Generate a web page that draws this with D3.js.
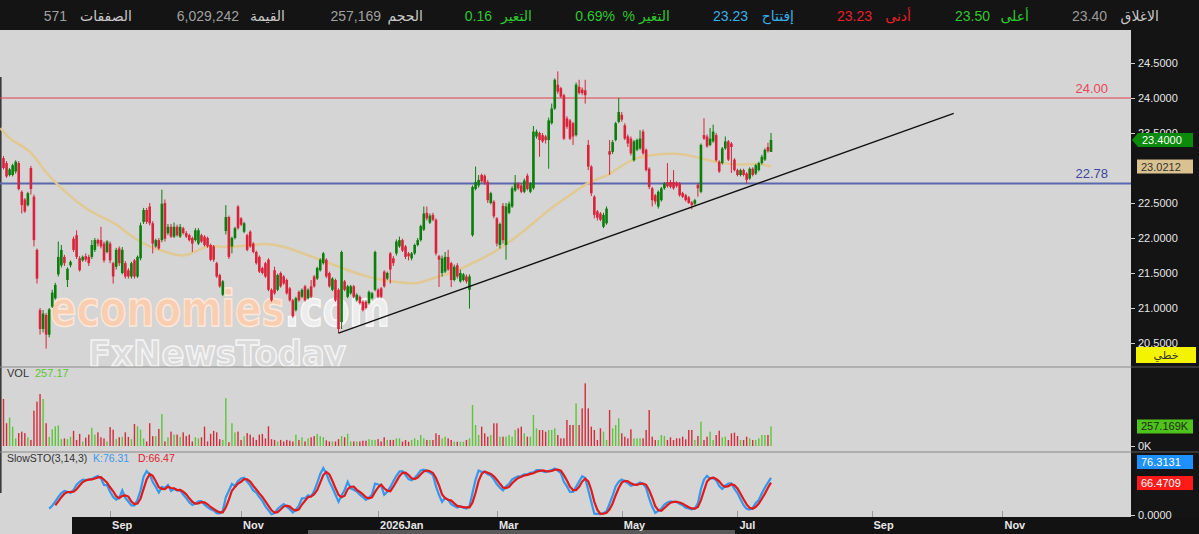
<!DOCTYPE html>
<html>
<head>
<meta charset="utf-8">
<script src="https://cdnjs.cloudflare.com/ajax/libs/d3/7.8.5/d3.min.js"></script>
<style>
html, body { margin: 0; padding: 0; background: #141414; overflow: hidden; }
svg { display: block; font-family: "Liberation Sans", Arial, "DejaVu Sans", sans-serif; }
</style>
</head>
<body>
<svg id="chart" width="1199" height="534"></svg>
<script>
// daily candles (oldest first)
var opens = [
  23.14,23.07,22.90,22.90,22.95,23.07,22.66,22.55,22.47,23.00,
  22.59,21.83,20.97,20.70,20.90,20.62,21.02,21.14,21.48,21.61,
  21.73,21.40,21.61,21.99,22.04,21.71,21.68,21.74,21.73,21.73,
  21.83,21.97,21.97,21.92,21.80,21.92,21.64,21.59,21.85,21.50,
  21.64,21.54,21.45,21.68,21.45,21.71,22.23,22.40,22.45,22.21,
  21.88,21.97,21.97,22.50,22.07,22.16,22.02,22.16,22.02,22.14,
  22.07,22.04,22.00,21.97,
  21.92,22.04,22.02,22.00,21.90,21.88,21.64,21.47,21.19,22.10,
  22.30,21.88,22.00,22.45,22.28,22.09,22.04,22.09,21.92,21.80,
  21.73,21.57,21.64,21.69,21.26,21.54,21.26,21.50,21.45,21.40,
  21.28,21.11,20.97,21.23,21.16,21.31,21.14,21.31,21.45,21.42,
  21.54,21.64,21.69,21.50,21.26,21.40,21.26,20.80,21.38,21.16,
  21.21,21.31,21.11,21.16,21.09,21.09,21.07,21.14,21.26,21.26,
  21.28,21.52,21.42,
  21.78,21.71,21.78,21.88,21.97,21.88,21.78,21.71,21.78,21.90,
  21.97,22.12,22.36,22.22,22.33,22.26,21.74,21.50,21.52,21.73,
  21.64,21.40,21.61,21.38,21.40,21.45,21.26,22.04,22.70,22.75,
  22.90,22.89,22.80,22.50,22.52,22.28,21.90,22.46,21.90,22.36,
  22.45,22.68,22.78,22.75,22.66,22.89,22.66,22.71,23.45,23.50,
  23.47,23.45,23.40,23.64,23.85,24.19,24.14,24.04,23.71,23.68,
  23.64,23.47,24.16,24.12,24.11,23.33,
  23.02,22.59,22.38,22.35,22.16,22.21,23.24,23.23,23.40,23.66,
  23.76,23.61,23.45,23.42,23.11,23.26,23.28,23.52,23.26,22.99,
  22.71,22.61,22.45,22.54,22.71,22.80,22.80,22.80,22.79,22.78,
  22.64,22.61,22.58,22.51,22.49,22.76,22.66,23.47,23.45,23.33,
  23.38,23.47,23.09,23.07,23.28,23.38,23.35,23.12,22.97,22.90,
  22.97,22.92,22.85,22.99,22.92,22.97,23.07,23.12,23.30,23.23
];
var highs = [
  23.17,23.10,23.00,23.06,23.11,23.10,22.68,22.57,22.66,23.03,
  22.62,21.85,21.00,20.97,20.93,21.00,21.26,21.36,21.95,21.90,
  21.76,21.58,21.68,22.02,22.11,21.74,21.75,21.78,21.76,21.97,
  22.00,21.99,22.16,21.95,21.97,21.95,21.66,21.86,21.88,21.87,
  21.67,21.57,21.66,21.70,21.75,22.22,22.43,22.43,22.50,22.24,
  21.99,22.00,22.69,22.55,22.20,22.20,22.22,22.19,22.20,22.16,
  22.10,22.06,22.02,22.14,
  22.14,22.06,22.04,22.02,21.92,21.90,21.66,21.49,21.40,22.47,
  22.32,22.02,22.16,22.47,22.30,22.23,22.06,22.11,21.94,21.82,
  21.75,21.59,21.66,21.71,21.28,21.59,21.49,21.52,21.47,21.42,
  21.30,21.13,21.16,21.25,21.28,21.33,21.28,21.40,21.47,21.59,
  21.71,21.80,21.71,21.52,21.44,21.42,21.28,21.82,21.40,21.33,
  21.33,21.33,21.21,21.18,21.11,21.11,21.25,21.23,21.82,21.28,
  21.30,21.54,21.52,
  21.80,21.74,21.98,22.02,21.99,21.90,21.80,21.80,21.92,22.00,
  22.19,22.45,22.45,22.35,22.36,22.28,21.76,21.75,21.80,21.83,
  21.66,21.62,21.64,21.55,21.50,21.48,21.48,22.75,23.02,22.90,
  22.92,22.91,22.83,22.66,22.54,22.30,22.22,22.50,22.50,22.52,
  22.74,22.90,22.80,22.78,22.85,22.92,22.80,23.60,23.55,23.52,
  23.50,23.47,23.72,23.92,24.28,24.38,24.16,24.06,23.74,23.70,
  23.66,24.22,24.26,24.15,24.26,23.40,
  23.04,22.61,22.40,22.37,22.36,22.45,23.40,23.40,23.66,24.00,
  23.80,23.64,23.48,23.45,23.40,23.42,23.54,23.55,23.28,23.01,
  22.73,22.63,22.68,22.73,22.80,23.07,22.83,22.97,22.81,22.80,
  22.66,22.63,22.60,22.53,22.56,22.78,23.35,23.71,23.48,23.57,
  23.62,23.50,23.11,23.30,23.45,23.40,23.37,23.14,22.99,22.99,
  22.99,22.94,23.01,23.01,23.06,23.09,23.19,23.28,23.36,23.50
];
var lows = [
  22.98,22.86,22.88,22.88,22.92,22.68,22.35,22.36,22.45,22.62,
  21.88,21.35,20.62,20.65,20.42,20.58,21.00,21.12,21.45,21.58,
  21.60,21.30,21.58,21.80,21.70,21.52,21.66,21.66,21.60,21.70,
  21.80,21.88,21.85,21.65,21.78,21.64,21.35,21.55,21.60,21.48,
  21.42,21.42,21.42,21.42,21.43,21.68,22.20,22.20,22.18,21.78,
  21.86,21.83,21.94,21.95,22.04,22.00,22.00,22.02,22.00,22.05,
  22.00,21.95,21.80,21.95,
  21.90,21.93,21.88,21.86,21.67,21.66,21.43,21.29,21.17,22.05,
  21.70,21.78,21.98,22.12,22.17,22.07,21.81,21.86,21.78,21.62,
  21.50,21.48,21.43,21.24,21.09,21.19,21.24,21.29,21.33,21.19,
  21.09,20.86,20.95,21.09,21.14,21.09,21.12,21.14,21.29,21.40,
  21.52,21.62,21.43,21.29,21.24,21.09,20.64,20.70,21.24,21.14,
  21.19,21.14,21.09,21.05,20.95,20.98,21.05,21.12,21.24,21.14,
  21.14,21.29,21.40,
  21.35,21.60,21.75,21.86,21.80,21.70,21.68,21.68,21.76,21.88,
  21.95,22.10,22.25,22.20,22.24,21.75,21.30,21.45,21.50,21.53,
  21.30,21.38,21.42,21.36,21.38,21.35,20.99,22.02,22.68,22.72,
  22.79,22.76,22.50,22.48,22.28,21.88,21.85,21.92,21.69,22.34,
  22.43,22.66,22.69,22.64,22.64,22.68,22.64,22.69,23.42,23.16,
  23.36,23.35,22.99,23.62,23.83,24.06,24.00,23.40,23.56,23.40,
  23.33,23.45,24.05,24.04,23.92,22.97,
  22.60,22.28,22.25,22.24,22.14,22.19,22.90,23.20,23.38,23.64,
  23.66,23.40,23.30,23.18,23.09,23.24,23.26,23.19,22.95,22.70,
  22.45,22.48,22.42,22.52,22.69,22.72,22.71,22.69,22.72,22.59,
  22.57,22.52,22.49,22.41,22.47,22.59,22.64,23.40,23.29,23.31,
  23.36,23.09,22.93,23.05,23.26,23.10,22.93,22.95,22.88,22.88,
  22.88,22.78,22.83,22.88,22.90,22.95,23.05,23.10,23.22,23.23
];
var closes = [
  23.00,22.88,22.98,23.04,23.09,22.70,22.47,22.38,22.64,22.70,
  21.97,21.42,20.70,20.92,20.62,20.98,21.22,21.33,21.73,21.83,
  21.64,21.56,21.66,21.83,21.73,21.54,21.73,21.69,21.64,21.90,
  21.97,21.92,21.88,21.68,21.95,21.68,21.45,21.83,21.64,21.83,
  21.45,21.45,21.64,21.45,21.73,22.18,22.40,22.23,22.21,21.92,
  21.97,21.85,22.49,21.99,22.16,22.02,22.16,22.04,22.16,22.07,
  22.02,21.97,21.92,22.11,
  22.11,21.95,21.90,21.88,21.69,21.69,21.45,21.31,21.38,22.30,
  21.73,22.00,22.14,22.14,22.19,22.21,21.83,21.88,21.80,21.64,
  21.52,21.50,21.45,21.26,21.11,21.21,21.47,21.31,21.35,21.21,
  21.11,20.88,21.14,21.11,21.26,21.11,21.26,21.16,21.31,21.57,
  21.69,21.78,21.45,21.31,21.42,21.11,20.70,21.80,21.26,21.31,
  21.31,21.16,21.19,21.07,20.97,21.00,21.23,21.21,21.80,21.16,
  21.16,21.31,21.50,
  21.55,21.64,21.95,21.97,21.82,21.73,21.74,21.78,21.90,21.97,
  22.17,22.35,22.28,22.32,22.26,21.78,21.69,21.71,21.73,21.55,
  21.40,21.59,21.45,21.50,21.48,21.38,21.45,22.73,22.80,22.83,
  22.81,22.79,22.54,22.64,22.31,21.92,22.20,21.97,22.45,22.49,
  22.71,22.78,22.71,22.66,22.82,22.70,22.78,23.52,23.52,23.40,
  23.38,23.40,23.68,23.85,24.26,24.09,24.02,23.42,23.59,23.42,
  23.45,24.19,24.07,24.07,24.04,23.02,
  22.64,22.33,22.29,22.26,22.33,22.42,23.19,23.37,23.64,23.80,
  23.69,23.42,23.35,23.21,23.38,23.40,23.42,23.21,22.97,22.73,
  22.54,22.52,22.66,22.71,22.78,22.74,22.73,22.71,22.74,22.61,
  22.59,22.54,22.50,22.47,22.54,22.71,23.33,23.42,23.31,23.42,
  23.52,23.11,22.95,23.28,23.38,23.12,23.30,22.97,22.90,22.97,
  22.90,22.83,22.99,22.90,23.04,23.07,23.16,23.26,23.24,23.40
];
// volume in thousands of shares
var volumes = [
  620,300,375,255,100,170,190,170,115,80,
  465,585,685,620,300,120,220,260,270,90,
  100,90,120,200,80,160,60,110,150,240,
  150,180,115,100,60,250,215,90,115,120,
  180,120,90,290,260,215,100,60,300,130,
  130,225,420,60,115,190,150,150,120,180,
  130,150,60,115,100,115,255,60,160,200,
  180,90,80,630,50,300,180,190,80,130,
  170,150,115,80,150,160,100,260,90,80,
  60,80,60,80,70,60,150,80,115,60,
  100,115,130,160,130,115,75,60,60,60,
  90,130,115,160,60,60,60,60,70,70,
  90,80,80,90,60,115,80,80,80,100,
  101,57,79,57,79,101,79,145,101,79,
  79,79,167,145,101,123,101,79,57,57,
  57,57,79,101,540,277,145,255,167,123,
  145,299,299,123,123,123,145,123,211,233,
  255,167,123,123,409,233,211,211,189,211,
  211,233,145,101,101,343,277,277,562,277,
  496,826,496,255,211,79,233,189,79,474,
  233,277,365,167,123,101,220,101,101,101,
  101,211,474,123,79,79,145,132,79,114,
  79,101,101,123,88,211,211,79,132,321,
  79,123,189,79,145,202,114,123,79,167,
  176,132,79,79,123,101,79,79,101,145,
  145,145,257.169
];
// moving average (beige line), sampled at candle indices
var maIdx = [-1,2,9,13,18,26,32,37,42,48,54,59,63,67,71,75,82,86,93,97,104,110,119,130,136,141,148,154,161,167,174,180,187,193,198,202,207,213,220,224,229,235,242,248,252];
var maVal = [23.57,23.40,23.26,22.97,22.75,22.44,22.30,22.21,22.01,21.87,21.79,21.73,21.80,21.90,21.87,21.87,21.90,21.93,21.87,21.80,21.69,21.59,21.44,21.36,21.34,21.43,21.51,21.64,21.79,21.97,22.21,22.44,22.64,22.83,22.87,23.01,23.14,23.19,23.21,23.19,23.14,23.07,23.04,23.07,23.02];

var trendIdx = [110, 312], trendVal = [20.64, 23.78];
var levelVals = [24.00, 22.78];
var priceTicks = [24.5, 24, 23.5, 22.5, 22, 21.5, 21, 20.5];
var dateIdx = [35, 78, 123, 162, 203, 241, 285, 328];
var dateLabels = ["Sep", "Nov", "2026Jan", "Mar", "May", "Jul", "Sep", "Nov"];
var headLabels = ["الاغلاق", "أعلى", "أدنى", "إفتتاح", "% التغير", "التغير", "الحجم", "القيمة", "الصفقات"];
var headValues = ["23.40", "23.50", "23.23", "23.23", "0.69%", "0.16", "257,169", "6,029,242", "571"];
var maLast = 23.0212, volLast = 257.169, kLast = 76.3131, dLast = 66.4709;

var UP = "#0b7d0b", DN = "#d9233a", VUP = "#5ec43a", VDN = "#d42a3a";

var svg = d3.select("#chart");
var N = closes.length;

var x = d3.scaleLinear().domain([0, N - 1]).range([3.5, 771]);
var y = d3.scaleLinear().domain([20.5, 24.5]).range([343, 63]);
var yVol = d3.scaleLinear().domain([0, 800]).range([446, 385.3]);
var ySto = d3.scaleLinear().domain([0, 100]).range([515, 467]);

// backgrounds
svg.append("rect").attr("width", 1199).attr("height", 534).attr("fill", "#141414");
svg.append("rect").attr("x", 0).attr("y", 30).attr("width", 1131).attr("height", 504).attr("fill", "#d5d5d5");
svg.append("rect").attr("x", 72).attr("y", 517).attr("width", 1127).attr("height", 17).attr("fill", "#121212");
svg.append("rect").attr("x", 308).attr("y", 530).attr("width", 427).attr("height", 4).attr("fill", "#5a5a5a");
svg.append("line").attr("x1", 0.8).attr("x2", 0.8).attr("y1", 77).attr("y2", 493)
  .attr("stroke", "#3a3a3a").attr("stroke-width", 1.6);

// header
var headLabelX = [1159, 1029, 911, 794, 670, 532, 423, 285, 132];
var headValueX = [1107, 990, 872, 748, 615, 492, 381, 239, 67];
var headLabelCol = ["#c8c8c8", "#2ec82e", "#e8202a", "#38b0e8", "#2ec82e", "#2ec82e", "#c8c8c8", "#c8c8c8", "#c8c8c8"];
var headValueCol = ["#9a9a9a", "#2ec82e", "#e8202a", "#38b0e8", "#2ec82e", "#2ec82e", "#a0a0a0", "#a0a0a0", "#a0a0a0"];
var hg = svg.append("g").attr("font-size", "14px");
headLabels.forEach(function(t, k) {
  hg.append("text").attr("x", headLabelX[k]).attr("y", 21).attr("text-anchor", "end")
    .attr("fill", headLabelCol[k]).text(t);
  hg.append("text").attr("x", headValueX[k]).attr("y", 21).attr("text-anchor", "end")
    .attr("fill", headValueCol[k]).text(headValues[k]);
});

// clip for the price panel
svg.append("clipPath").attr("id", "cm").append("rect")
  .attr("x", 0).attr("y", 30).attr("width", 1131).attr("height", 337);
var gMain = svg.append("g").attr("clip-path", "url(#cm)");

// watermark
var wm = gMain.append("g");
var t1 = wm.append("text").attr("x", 50).attr("y", 326).attr("font-size", "50px")
  .attr("font-family", "'DejaVu Sans', sans-serif").attr("font-weight", "bold")
  .attr("textLength", 340).attr("lengthAdjust", "spacingAndGlyphs").attr("stroke-width", 1.5);
t1.append("tspan").attr("fill", "#f9cdb0").attr("stroke", "#fde8da").text("economies");
t1.append("tspan").attr("fill", "#ececec").attr("stroke", "#fafafa").text(".com");
wm.append("text").attr("x", 88).attr("y", 366).attr("font-size", "36px")
  .attr("font-family", "'DejaVu Sans', sans-serif").attr("font-weight", "bold")
  .attr("textLength", 258).attr("lengthAdjust", "spacingAndGlyphs")
  .attr("fill", "rgba(255,255,255,0.18)").attr("stroke", "#f4f4f4").attr("stroke-width", 1.6)
  .text("FxNewsToday");

// horizontal levels
gMain.append("line").attr("x1", 0).attr("x2", 1131).attr("y1", y(levelVals[0])).attr("y2", y(levelVals[0]))
  .attr("stroke", "#e0404e").attr("stroke-width", 1);
gMain.append("line").attr("x1", 0).attr("x2", 1131).attr("y1", y(levelVals[1])).attr("y2", y(levelVals[1]))
  .attr("stroke", "#5a68b0").attr("stroke-width", 2);
gMain.append("text").attr("x", 1108).attr("y", y(levelVals[0]) - 5).attr("text-anchor", "end")
  .attr("font-size", "13px").attr("fill", "#e8485a").text(levelVals[0].toFixed(2));
gMain.append("text").attr("x", 1108).attr("y", y(levelVals[1]) - 5).attr("text-anchor", "end")
  .attr("font-size", "13px").attr("fill", "#3a48a0").text(levelVals[1].toFixed(2));

// moving average
gMain.append("path").datum(d3.range(maIdx.length))
  .attr("d", d3.line().x(function(k) { return x(maIdx[k]); }).y(function(k) { return y(maVal[k]); })
    .curve(d3.curveBasis))
  .attr("fill", "none").attr("stroke", "#e2c88f").attr("stroke-width", 2.5).attr("opacity", 0.95);

// candles
var idx = d3.range(N);
function col(i) { return closes[i] >= opens[i] ? UP : DN; }
gMain.append("g").selectAll("line").data(idx).join("line")
  .attr("x1", function(i) { return x(i); }).attr("x2", function(i) { return x(i); })
  .attr("y1", function(i) { return y(highs[i]); }).attr("y2", function(i) { return y(lows[i]); })
  .attr("stroke", col).attr("stroke-width", 1);
gMain.append("g").selectAll("rect").data(idx).join("rect")
  .attr("x", function(i) { return x(i) - 1.3; }).attr("width", 2.6)
  .attr("y", function(i) { return y(Math.max(opens[i], closes[i])); })
  .attr("height", function(i) { return Math.max(1, Math.abs(y(opens[i]) - y(closes[i]))); })
  .attr("fill", col);

// trend line
gMain.append("line")
  .attr("x1", x(trendIdx[0])).attr("y1", y(trendVal[0]))
  .attr("x2", x(trendIdx[1])).attr("y2", y(trendVal[1]))
  .attr("stroke", "#111").attr("stroke-width", 1.4);

// panel separators
[367, 452].forEach(function(v) {
  svg.append("line").attr("x1", 0).attr("x2", 1199).attr("y1", v).attr("y2", v)
    .attr("stroke", "#8a8a8a").attr("stroke-width", 1.2);
});

// volume
svg.append("g").selectAll("rect").data(idx).join("rect")
  .attr("x", function(i) { return x(i) - 0.7; }).attr("width", 1.4)
  .attr("y", function(i) { return yVol(volumes[i]); })
  .attr("height", function(i) { return yVol(0) - yVol(volumes[i]); })
  .attr("fill", function(i) { return closes[i] >= opens[i] ? VUP : VDN; });
svg.append("text").attr("x", 7).attr("y", 377).attr("font-size", "11px").attr("fill", "#333").text("VOL");
svg.append("text").attr("x", 35).attr("y", 377).attr("font-size", "11px").attr("fill", "#5ec43a")
  .text(d3.format(".2f")(volLast));

// slow stochastic (3,14,3) from the candles
var fastK = closes.map(function(c, i) {
  if (i < 13) return null;
  var hh = d3.max(highs.slice(i - 13, i + 1)), ll = d3.min(lows.slice(i - 13, i + 1));
  return hh === ll ? 50 : 100 * (c - ll) / (hh - ll);
});
var slowK = fastK.map(function(v, i) { return i < 15 ? null : d3.mean(fastK.slice(i - 2, i + 1)); });
var slowD = slowK.map(function(v, i) { return i < 17 ? null : d3.mean(slowK.slice(i - 2, i + 1)); });
var stoLine = function(arr) {
  return d3.line().defined(function(i) { return arr[i] != null; })
    .x(function(i) { return x(i); }).y(function(i) { return ySto(arr[i]); });
};
svg.append("path").datum(idx).attr("d", stoLine(slowK))
  .attr("fill", "none").attr("stroke", "#3398ee").attr("stroke-width", 2.2);
svg.append("path").datum(idx).attr("d", stoLine(slowD))
  .attr("fill", "none").attr("stroke", "#e01a1a").attr("stroke-width", 2.2);
svg.append("text").attr("x", 7).attr("y", 462).attr("font-size", "10.5px").attr("fill", "#333").text("SlowSTO(3,14,3)");
svg.append("text").attr("x", 93).attr("y", 462).attr("font-size", "10.5px").attr("fill", "#3a9ae8")
  .text("K:" + kLast.toFixed(2));
svg.append("text").attr("x", 138).attr("y", 462).attr("font-size", "10.5px").attr("fill", "#e0202a")
  .text("D:" + dLast.toFixed(2));

// date axis
var dg = svg.append("g");
dateIdx.forEach(function(d, k) {
  dg.append("line").attr("x1", Math.round(x(d)) + 0.5).attr("x2", Math.round(x(d)) + 0.5)
    .attr("y1", 511).attr("y2", 517).attr("stroke", "#9a9a9a");
  dg.append("text").attr("x", x(d) + 2).attr("y", 529).attr("font-size", "11px")
    .attr("font-weight", "bold").attr("fill", "#e6e6e6").text(dateLabels[k]);
});

// right axes
svg.append("rect").attr("x", 1131).attr("y", 30).attr("width", 68).attr("height", 487).attr("fill", "#141414");
[367, 452].forEach(function(v) {
  svg.append("line").attr("x1", 1131).attr("x2", 1199).attr("y1", v).attr("y2", v)
    .attr("stroke", "#5a5a5a").attr("stroke-width", 1);
});
function styleAxis(g) {
  g.select(".domain").remove();
  g.selectAll(".tick line").attr("stroke", "#cfcfcf");
  g.selectAll(".tick text").attr("fill", "#e6e6e6").attr("font-size", "11px")
    .attr("font-family", "'Liberation Sans', Arial, sans-serif");
}
svg.append("g").attr("transform", "translate(1131,0)")
  .call(d3.axisRight(y).tickValues(priceTicks).tickSize(4).tickFormat(d3.format(".4f")))
  .call(styleAxis);
svg.append("g").attr("transform", "translate(1131,0)")
  .call(d3.axisRight(yVol).tickValues([0]).tickSize(4).tickFormat(function(d) { return d + "K"; }))
  .call(styleAxis);
svg.append("g").attr("transform", "translate(1131,0)")
  .call(d3.axisRight(ySto).tickValues([0]).tickSize(4).tickFormat(d3.format(".4f")))
  .call(styleAxis);

// value tags
var lastClose = closes[N - 1], yc = y(lastClose);
svg.append("polygon")
  .attr("points", [[1132, yc], [1138, yc - 7], [1193, yc - 7], [1193, yc + 7], [1138, yc + 7]].join(" "))
  .attr("fill", "#0b8a0b");
svg.append("text").attr("x", 1142).attr("y", yc + 4).attr("font-size", "11px").attr("fill", "#fff")
  .text(lastClose.toFixed(4));

function tag(yy, txt, bg, fg) {
  svg.append("rect").attr("x", 1137).attr("y", yy - 7).attr("width", 56).attr("height", 14).attr("fill", bg);
  svg.append("text").attr("x", 1141).attr("y", yy + 4).attr("font-size", "11px").attr("fill", fg).text(txt);
}
tag(y(maLast), maLast.toFixed(4), "#d9c28f", "#333");
tag(yVol(volLast), d3.format(".3f")(volLast) + "K", "#50c21c", "#1e2e10");
tag(462, kLast.toFixed(4), "#1e90ff", "#fff");
tag(483, dLast.toFixed(4), "#ff1a1a", "#fff");

svg.append("rect").attr("x", 1136).attr("y", 347).attr("width", 60).attr("height", 16).attr("fill", "#f4f400");
svg.append("text").attr("x", 1166).attr("y", 359).attr("text-anchor", "middle").attr("font-size", "11px")
  .attr("fill", "#333").text("خطي");
</script>
</body>
</html>
